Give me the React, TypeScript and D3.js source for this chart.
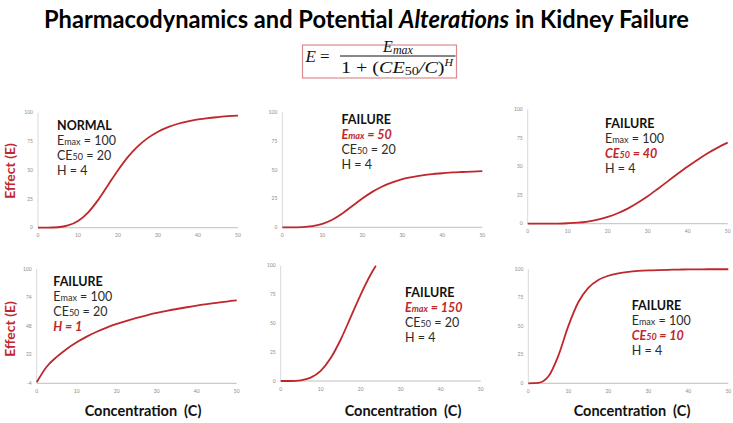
import * as d3 from "d3";
import React from "react";

// concentration grid
const conc = [0, 2.5, 5, 7.5, 10, 12.5, 15, 17.5, 20, 22.5, 25, 27.5, 30, 32.5, 35, 37.5, 40, 42.5, 45, 47.5, 50];
const concHigh = [0, 2.5, 5, 7.5, 10, 12.5, 15, 17.5, 20, 22.5, 23.8];

// effect values (E)
const normalE = [0, 0, 0.4, 2, 5.9, 13.2, 24, 37, 50, 61.6, 70.9, 78.1, 83.5, 87.5, 90.4, 92.5, 94.1, 95.3, 96.2, 97, 97.5];
const emax50E = [0, 0, 0.2, 1, 3, 6.6, 12, 18.5, 25, 30.8, 35.5, 39, 41.8, 43.7, 45.2, 46.3, 47, 47.7, 48.1, 48.5, 48.8];
const ce40E = [0, 0, 0, 0.1, 0.4, 0.9, 1.9, 3.5, 5.9, 9.1, 13.2, 18.3, 24, 30.4, 37, 43.6, 50, 56, 61.6, 66.5, 70.9];
const hill1E = [-3, 11.1, 20, 27.3, 33.3, 38.5, 42.9, 46.7, 50, 52.9, 55.6, 57.9, 60, 61.9, 63.6, 65.2, 66.7, 68, 69.2, 70.4, 71.4];
const emax150E = [0, 0, 0.6, 2.9, 8.8, 19.9, 36, 55.4, 75, 92.4, 100];
const ce10E = [0, 0.4, 5.9, 24, 50, 70.9, 83.5, 90.4, 94.1, 96.2, 97.5, 98.3, 98.8, 99.1, 99.3, 99.5, 99.6, 99.7, 99.8, 99.8, 99.8];

const xTicks = [0, 10, 20, 30, 40, 50];
const yTicks = [0, 25, 50, 75, 100];
const yTicksHill = [-4, 22, 48, 74, 100];

const panelTitles = ["NORMAL", "FAILURE", "FAILURE", "FAILURE", "FAILURE", "FAILURE"];
const emaxLabels = ["100", "50", "100", "100", "150", "100"];
const ce50Labels = ["20", "20", "40", "20", "20", "10"];
const hillLabels = ["4", "4", "4", "1", "4", "4"];
// which parameter is altered: 0 none, 1 Emax, 2 CE50, 3 H
const altered = [0, 1, 2, 3, 1, 2];

const RED = "#c0272d";
const TEXT = "#2b2b2b";
const FONT = "Lato, 'Open Sans', sans-serif";
const SERIF = "'Liberation Serif', 'DejaVu Serif', serif";

type Panel = {
  x: number[];
  y: number[];
  yTicks: number[];
  left: number;
  top: number;
  bottom: number;
  tx: number;
  ty: number;
};

const panels: Panel[] = [
  { x: conc, y: normalE, yTicks, left: 38, top: 112.7, bottom: 227.7, tx: 57, ty: 130 },
  { x: conc, y: emax50E, yTicks, left: 282.3, top: 112.3, bottom: 227.3, tx: 341.5, ty: 124 },
  { x: conc, y: ce40E, yTicks, left: 527.7, top: 109.3, bottom: 223.7, tx: 605, ty: 127.7 },
  { x: conc, y: hill1E, yTicks: yTicksHill, left: 36.7, top: 269, bottom: 383.3, tx: 53.3, ty: 285.7 },
  { x: concHigh, y: emax150E, yTicks, left: 280.7, top: 265.7, bottom: 381, tx: 405, ty: 296.7 },
  { x: conc, y: ce10E, yTicks, left: 528.3, top: 269, bottom: 383.3, tx: 631.7, ty: 310 },
];

function ParamLine({ x, y, base, sub, rest, hi }: { x: number; y: number; base: string; sub: string; rest: string; hi: boolean }) {
  return (
    <text
      x={x}
      y={y}
      fontFamily={FONT}
      fontSize={12.5}
      fill={hi ? RED : TEXT}
      fontWeight={hi ? 700 : 400}
      fontStyle={hi ? "italic" : "normal"}
    >
      {base}
      <tspan fontSize={9}>{sub}</tspan>
      {rest}
    </text>
  );
}

function Chart({ p, i }: { p: Panel; i: number }) {
  const domainY = d3.extent(p.yTicks) as [number, number];
  const x = d3.scaleLinear().domain([0, 50]).range([p.left, p.left + 200]);
  const y = d3.scaleLinear().domain(domainY).range([p.bottom, p.top]);
  const pts = p.x.map((c, k) => [c, p.y[k]] as [number, number]);
  const line = d3
    .line<[number, number]>()
    .x((d) => x(d[0]))
    .y((d) => y(d[1]))
    .curve(d3.curveMonotoneX);
  const a = altered[i];
  return (
    <g>
      <line x1={p.left} x2={p.left} y1={p.top} y2={p.bottom} stroke="#d9d9d9" strokeWidth={1} />
      <line x1={p.left} x2={p.left + 200} y1={p.bottom} y2={p.bottom} stroke="#bfbfbf" strokeWidth={1} />
      {p.yTicks.map((t) => (
        <text key={t} x={p.left - 5} y={y(t)} dy="0.35em" textAnchor="end" fontSize={5} fill="#8c8c8c" fontFamily={FONT}>
          {t}
        </text>
      ))}
      {xTicks.map((t) => (
        <text key={t} x={x(t)} y={p.bottom + 8} dy="0.35em" textAnchor="middle" fontSize={5} fill="#8c8c8c" fontFamily={FONT}>
          {t}
        </text>
      ))}
      <path d={line(pts) || ""} fill="none" stroke={RED} strokeWidth={1.8} />
      <text x={p.tx} y={p.ty} fontFamily={FONT} fontSize={12.5} fontWeight={700} fill="#111">
        {panelTitles[i]}
      </text>
      <ParamLine x={p.tx} y={p.ty + 15} base="E" sub="max" rest={` = ${emaxLabels[i]}`} hi={a === 1} />
      <ParamLine x={p.tx} y={p.ty + 30} base="CE" sub="50" rest={` = ${ce50Labels[i]}`} hi={a === 2} />
      <ParamLine x={p.tx} y={p.ty + 45} base="H" sub="" rest={` = ${hillLabels[i]}`} hi={a === 3} />
    </g>
  );
}

export default function App() {
  return (
    <svg width={733} height={423} style={{ position: "absolute", left: 0, top: 0, background: "#fff" }}>
      <rect width={733} height={423} fill="#fff" />
      <text x={366.5} y={28} textAnchor="middle" fontFamily={FONT} fontWeight={700} fontSize={24} fill="#000"
        textLength={645} lengthAdjust="spacingAndGlyphs">
        Pharmacodynamics and Potential <tspan fontStyle="italic">Alterations</tspan> in Kidney Failure
      </text>

      <rect x={302.5} y={45} width={154} height={33} fill="none" stroke="#d98c8c" strokeWidth={1.2} />
      <g fontFamily={SERIF} fontStyle="italic" fill="#111">
        <text x={305.5} y={62} fontSize={17}>E</text>
        <text x={320} y={62} fontSize={17} fontStyle="normal">=</text>
        <text x={398} y={52} fontSize={16} textAnchor="middle">
          E<tspan fontSize={12} dy={2}>max</tspan>
        </text>
        <line x1={340} x2={455.5} y1={56} y2={56} stroke="#111" strokeWidth={1} />
        <text x={341} y={72.5} fontSize={17} textLength={112} lengthAdjust="spacingAndGlyphs">
          <tspan fontStyle="normal">1 + (</tspan>CE<tspan fontSize={12} dy={2} fontStyle="normal">50</tspan>
          <tspan dy={-2}>/</tspan>C<tspan fontStyle="normal">)</tspan>
          <tspan fontSize={10} dy={-7}>H</tspan>
        </text>
      </g>

      {panels.map((p, i) => (
        <Chart key={i} p={p} i={i} />
      ))}

      <text transform="translate(15,171) rotate(-90)" textAnchor="middle" fontFamily={FONT} fontWeight={700} fontSize={14} fill={RED}>
        Effect (E)
      </text>
      <text transform="translate(15,329) rotate(-90)" textAnchor="middle" fontFamily={FONT} fontWeight={700} fontSize={14} fill={RED}>
        Effect (E)
      </text>
      {[143, 403, 632].map((cx) => (
        <text key={cx} x={cx} y={416} textAnchor="middle" fontFamily={FONT} fontWeight={700} fontSize={14.5} fill="#111">
          Concentration&#160;&#160;(C)
        </text>
      ))}
    </svg>
  );
}
